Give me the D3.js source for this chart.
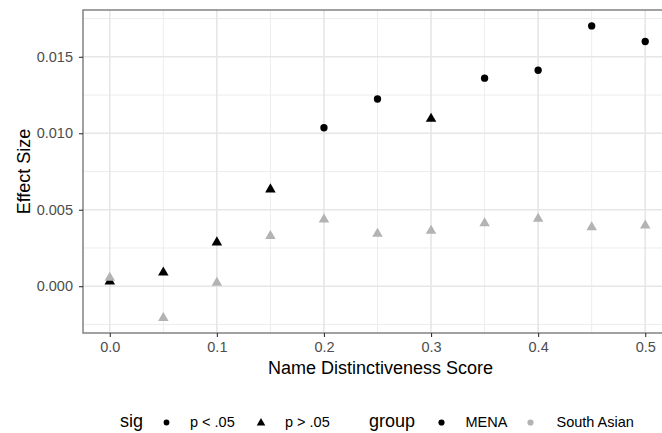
<!DOCTYPE html>
<html><head><meta charset="utf-8">
<script src="https://cdn.jsdelivr.net/npm/d3@7"></script>
<style>body{margin:0;background:#fff;} svg{display:block;font-family:"Liberation Sans",Arial,sans-serif;}</style>
</head><body><svg id="c" width="662" height="433"></svg>
<script>
const xValues = [0.0,0.05,0.1,0.15,0.2,0.25,0.3,0.35,0.4,0.45,0.5];
const menaValues = [0.00035,0.00093,0.0029,0.00636,0.01036,0.01224,0.01098,0.0136,0.01412,0.01702,0.0160];
const menaSig = ["p > .05","p > .05","p > .05","p > .05","p < .05","p < .05","p > .05","p < .05","p < .05","p < .05","p < .05"];
const southAsianValues = [0.00058,-0.00205,0.00026,0.00331,0.00439,0.00346,0.00366,0.00415,0.00444,0.00389,0.0040];
const southAsianSig = ["p > .05","p > .05","p > .05","p > .05","p > .05","p > .05","p > .05","p > .05","p > .05","p > .05","p > .05"];
const xTicks = [0.0,0.1,0.2,0.3,0.4,0.5];
const yTicks = [0.000,0.005,0.010,0.015];
const groups = ["MENA","South Asian"];
const sigLevels = ["p < .05","p > .05"];

const svg = d3.select("#c");
const L = 83, T = 10, R = 672, B = 333;
const x = d3.scaleLinear().domain([-0.025,0.525]).range([L,R]);
const y = d3.scaleLinear().domain([-0.00306,0.01806]).range([B,T]);
const colour = d3.scaleOrdinal().domain(groups).range(["#000000","#b3b3b3"]);
const shape = d3.scaleOrdinal().domain(sigLevels).range([d3.symbolCircle,d3.symbolTriangle]);

// grid
const g = svg.append("g");
const xMinor = d3.range(0.05,0.5,0.1);
const yMinor = [-0.0025,0.0025,0.0075,0.0125,0.0175];
g.selectAll(".xm").data(xMinor).join("line").attr("x1",d=>x(d)).attr("x2",d=>x(d)).attr("y1",T).attr("y2",B).attr("stroke","#ededed").attr("stroke-width",1);
g.selectAll(".ym").data(yMinor).join("line").attr("y1",d=>y(d)).attr("y2",d=>y(d)).attr("x1",L).attr("x2",R).attr("stroke","#ededed").attr("stroke-width",1);
g.selectAll(".xM").data(xTicks).join("line").attr("x1",d=>x(d)).attr("x2",d=>x(d)).attr("y1",T).attr("y2",B).attr("stroke","#e6e6e6").attr("stroke-width",1.6);
g.selectAll(".yM").data(yTicks).join("line").attr("y1",d=>y(d)).attr("y2",d=>y(d)).attr("x1",L).attr("x2",R).attr("stroke","#e6e6e6").attr("stroke-width",1.6);

// points
const pts = [];
xValues.forEach((v,i)=>pts.push({x:v,y:menaValues[i],g:"MENA",s:menaSig[i]}));
xValues.forEach((v,i)=>pts.push({x:v,y:southAsianValues[i],g:"South Asian",s:southAsianSig[i]}));
const sym = d3.symbol().type(d=>shape(d.s)).size(d=>d.s==="p < .05"?42:48);
svg.append("g").selectAll("path").data(pts).join("path")
  .attr("transform",d=>`translate(${x(d.x)},${y(d.y) + (d.s==="p > .05"?0.5:0)})`)
  .attr("d",sym).attr("fill",d=>colour(d.g));

// border
svg.append("rect").attr("x",L).attr("y",T).attr("width",R-L).attr("height",B-T).attr("fill","none").attr("stroke","#7a7a7a").attr("stroke-width",1.4);

// axes
const xa = svg.append("g").attr("transform",`translate(0,${B})`).call(d3.axisBottom(x).tickValues(xTicks).tickFormat(d3.format(".1f")).tickSize(4).tickPadding(5));
const ya = svg.append("g").attr("transform",`translate(${L},0)`).call(d3.axisLeft(y).tickValues(yTicks).tickFormat(d3.format(".3f")).tickSize(4).tickPadding(6));
[xa,ya].forEach(a=>{a.select(".domain").remove();a.selectAll("line").attr("stroke","#333").attr("stroke-width",1.1);a.selectAll("text").attr("fill","#4d4d4d").style("font-size","14.5px").style("font-family","'Liberation Sans',Arial,sans-serif");});

svg.append("text").attr("x",(L+R)/2+3).attr("y",374).attr("text-anchor","middle").style("font-size","18px").attr("fill","#000").text("Name Distinctiveness Score");
svg.append("text").attr("transform",`translate(29.5,${(T+B)/2}) rotate(-90)`).attr("text-anchor","middle").style("font-size","18px").attr("fill","#000").text("Effect Size");

// legend
const ly = 422.5;
const lg = svg.append("g");
lg.append("text").attr("x",120).attr("y",427).style("font-size","18px").text("sig");
lg.append("path").attr("transform",`translate(166.5,${ly})`).attr("d",d3.symbol().type(shape(sigLevels[0])).size(26)()).attr("fill","#000");
lg.append("path").attr("transform",`translate(261,${ly+0.5})`).attr("d",d3.symbol().type(shape(sigLevels[1])).size(32)()).attr("fill","#000");
lg.append("text").attr("x",190).attr("y",427).style("font-size","14.5px").text(sigLevels[0]);
lg.append("text").attr("x",285).attr("y",427).style("font-size","14.5px").text(sigLevels[1]);
lg.append("text").attr("x",369).attr("y",427).style("font-size","18px").text("group");
lg.append("path").attr("transform",`translate(441.5,${ly})`).attr("d",d3.symbol().type(d3.symbolCircle).size(30)()).attr("fill",colour(groups[0]));
lg.append("path").attr("transform",`translate(530.5,${ly})`).attr("d",d3.symbol().type(d3.symbolCircle).size(30)()).attr("fill",colour(groups[1]));
lg.append("text").attr("x",465.5).attr("y",427).style("font-size","14.5px").text(groups[0]);
lg.append("text").attr("x",556.5).attr("y",427).style("font-size","14.5px").text(groups[1]);
</script></body></html>
